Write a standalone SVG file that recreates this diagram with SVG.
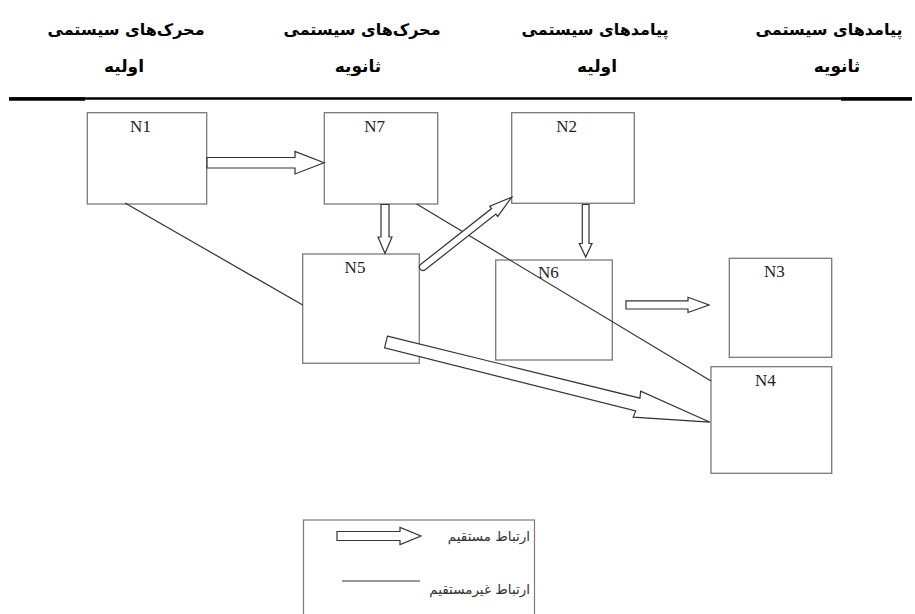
<svg xmlns="http://www.w3.org/2000/svg" width="915" height="614" viewBox="0 0 915 614">
<style>
.hdr{font-family:"DejaVu Sans",sans-serif;font-weight:bold;font-size:16px;fill:#000;text-anchor:middle}
.hdr2{font-family:"DejaVu Sans",sans-serif;font-weight:bold;font-size:17px;fill:#000;text-anchor:middle}
.box{fill:#fff;stroke:#7a7a7a;stroke-width:1.3}
.lbl{font-family:"Liberation Serif",serif;font-size:17px;fill:#222;text-anchor:middle}
.ln{fill:none;stroke:#333;stroke-width:1.2}
.arr{fill:#fff;stroke:#333;stroke-width:1.2;stroke-linejoin:miter}
.leg{font-family:"DejaVu Sans",sans-serif;font-size:13.5px;fill:#333;text-anchor:end}
</style>
<rect width="915" height="614" fill="#fff"/>
<g id="header">
<text class="hdr" x="126" y="35">محرک‌های سیستمی</text>
<text class="hdr2" x="124" y="72">اولیه</text>
<text class="hdr" x="362" y="35">محرک‌های سیستمی</text>
<text class="hdr2" x="358" y="72">ثانویه</text>
<text class="hdr" x="595" y="35">پیامدهای سیستمی</text>
<text class="hdr2" x="597" y="72">اولیه</text>
<text class="hdr" x="829" y="35">پیامدهای سیستمی</text>
<text class="hdr2" x="837" y="72">ثانویه</text>
<line x1="9" y1="98.5" x2="912" y2="98.5" stroke="#000" stroke-width="2.5"/>
<line x1="9" y1="99" x2="85" y2="99" stroke="#000" stroke-width="3.5"/>
<line x1="841" y1="99" x2="912" y2="99" stroke="#000" stroke-width="3.5"/>
</g>
<g id="N1"><rect class="box" x="87.3" y="112.7" width="119.4" height="91.3"/><text class="lbl" x="140.5" y="132.3">N1</text></g>
<g id="N7"><rect class="box" x="324.3" y="112.7" width="113.4" height="91.3"/><text class="lbl" x="374.7" y="132.3">N7</text></g>
<g id="N2"><rect class="box" x="511.7" y="112.7" width="122.6" height="90.6"/><text class="lbl" x="566.7" y="132.3">N2</text></g>
<g id="N5"><rect class="box" x="302.7" y="254" width="116.6" height="109.3"/><text class="lbl" x="355" y="273.3">N5</text></g>
<g id="N6"><rect class="box" x="495.7" y="260" width="116.6" height="100"/><text class="lbl" x="548.3" y="278.3">N6</text></g>
<g id="N3"><rect class="box" x="729.3" y="258.3" width="102.4" height="99"/><text class="lbl" x="774.3" y="276.7">N3</text></g>
<g id="N4"><rect class="box" x="711" y="366.7" width="120.7" height="106.6"/><text class="lbl" x="765.3" y="386">N4</text></g>
<g id="connectors">
<line class="ln" x1="125" y1="203" x2="302.7" y2="305"/>
<line class="ln" x1="416.7" y1="204" x2="711" y2="381"/>
<polygon class="arr" points="207,157.5 295,157.5 295,151.5 324,162.8 295,174 295,168 207,168"/>
<polygon class="arr" points="381,204.5 389,204.5 389,237 392,237 385,253.5 378,237 381,237"/>
<polygon class="arr" points="582.3,204.5 589,204.5 589,243.5 592,243.5 585.7,257 579.3,243.5 582.3,243.5"/>
<polygon class="arr" points="626,300.8 688,300.8 688,297.3 709,305 688,312.5 688,309 626,309"/>
<path class="arr" transform="translate(423,267) rotate(-38.2)" d="M0,3.5 A3.5,3.5 0 0 1 0,-3.5 L90,-3.5 L90,-6.5 L112.8,0 L90,6.5 L90,3.5 Z"/>
<path class="arr" transform="translate(386,342) rotate(13.9)" d="M0,-6 L260,-6.5 L259,-13.5 L333.8,0 L258,13.5 L259,7 L0,6 Z"/>
</g>
<g id="legend">
<rect x="303.5" y="520" width="231" height="100" fill="#fff" stroke="#7a7a7a" stroke-width="1.2"/>
<polygon class="arr" points="337,531.5 400,531.5 400,527.5 421,536 400,544.5 400,540.5 337,540.5"/>
<line class="ln" x1="342" y1="581" x2="420" y2="581"/>
<text class="leg" x="530" y="541">ارتباط مستقیم</text>
<text class="leg" x="530" y="594">ارتباط غیرمستقیم</text>
</g>
</svg>
